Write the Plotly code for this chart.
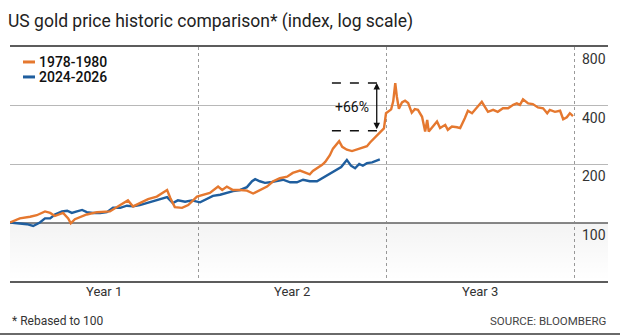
import math
import plotly.graph_objects as go

# ---- data (index, rebased to 100; x = days since start of period) ----
days_1978 = [0, 19, 39, 52, 68, 78, 87, 103, 113, 118, 126, 149, 169, 194, 214, 229, 239, 252,
             268, 285, 297, 305, 311, 320, 334, 346, 363, 375, 388, 404, 412, 421, 433, 447,
             460, 472, 485, 499, 511, 524, 538, 549, 563, 573, 582, 588, 598, 606, 612, 621,
             627, 635, 639, 645, 654, 664, 674, 683, 693, 699, 709, 718, 726, 730, 734, 740,
             744, 748, 751, 755, 761, 767, 773, 780, 786, 792, 800, 806, 810, 813, 821, 829,
             835, 845, 850, 858, 868, 874, 883, 889, 897, 907, 916, 922, 928, 938, 947, 957,
             967, 977, 984, 990, 996, 1006, 1015, 1025, 1035, 1043, 1048, 1058, 1068, 1074,
             1081, 1087, 1093]
gold_1978 = [100, 105, 107, 109, 114, 112, 108, 112, 105, 99, 104, 110, 113, 114, 123, 130, 121, 126,
             132, 136, 142, 147, 134, 120, 119, 123, 136, 139, 142, 153, 147, 153, 147, 147,
             146, 141, 147, 153, 163, 169, 172, 180, 185, 180, 177, 184, 191, 198, 205, 222,
             240, 255, 262, 245, 237, 233, 237, 242, 247, 258, 275, 290, 305, 365, 372, 382,
             420, 522, 445, 385, 415, 423, 412, 367, 383, 380, 350, 294, 337, 294, 312, 331,
             306, 318, 300, 312, 309, 306, 344, 376, 365, 394, 418, 394, 371, 380, 371, 387,
             387, 403, 410, 403, 430, 410, 407, 391, 387, 365, 380, 371, 376, 340,
             348, 365, 353]

days_2024 = [0, 19, 33, 45, 58, 68, 78, 87, 101, 111, 120, 130, 140, 149, 161, 175, 188, 200,
             214, 227, 239, 252, 266, 278, 291, 305, 316, 326, 340, 353, 369, 382, 394, 408,
             421, 433, 447, 460, 470, 476, 485, 495, 505, 518, 530, 544, 557, 569, 582, 596,
             608, 621, 631, 643, 654, 662, 670, 678, 685, 693, 703, 713, 718]
gold_2024 = [100, 99, 98, 96, 100, 105, 105, 110, 114, 115, 112, 114, 116, 113, 112, 112, 113, 119,
             119, 122, 121, 123, 126, 128, 132, 135, 126, 130, 128, 130, 127, 132, 137, 139,
             142, 145, 147, 152, 163, 167, 163, 160, 161, 163, 166, 161, 161, 166, 163, 163,
             170, 177, 184, 193, 210, 196, 190, 200, 196, 202, 204, 208, 211]

year_bounds = [0, 365, 730, 1095]
year_mids = [182.5, 547.5, 912.5]
year_labels = ["Year 1", "Year 2", "Year 3"]
y_ticks = [100, 200, 400, 800]
light_grid = [200, 400]
base_line = [100]
X_MAX = 1161
Y_MIN, Y_MAX = 50, 800

# annotation of the peak gain
ann_days = [625, 726]
ann_arrow_day = 712
ann_label_day = 664
peak_value = 522
pre_peak_value = 297

ORANGE = "#E5782F"
BLUE = "#1F5E9E"
FONT = "Roboto"
L = math.log10
Y_RANGE = [L(Y_MIN), L(Y_MAX)]

fig = go.Figure()
# faint shading below the 100 line
fig.add_trace(go.Scatter(x=[0, X_MAX, X_MAX, 0], y=[Y_MIN, Y_MIN, 100, 100], fill="toself", mode="none",
                         fillgradient=dict(type="vertical",
                                           colorscale=[[0, "rgba(0,0,0,0)"], [1, "rgba(0,0,0,0.045)"]]),
                         showlegend=False, hoverinfo="skip"))
fig.add_trace(go.Scatter(x=days_2024, y=gold_2024, mode="lines", name="2024-2026",
                         line=dict(color=BLUE, width=2.4), showlegend=False))
fig.add_trace(go.Scatter(x=days_1978, y=gold_1978, mode="lines", name="1978-1980",
                         line=dict(color=ORANGE, width=2.4), showlegend=False))
# dashed guide lines of the +66% annotation
for v in (peak_value, pre_peak_value):
    fig.add_trace(go.Scatter(x=ann_days, y=[v, v], mode="lines", showlegend=False, hoverinfo="skip",
                             line=dict(color="#111111", width=1.5, dash="dash")))
# base line (100) on an overlaid axis so it can be darker than the other grid lines
fig.add_trace(go.Scatter(x=[None], y=[None], yaxis="y2", showlegend=False, hoverinfo="skip"))

shapes = [
    # footer rule
    dict(type="line", xref="paper", yref="paper", x0=-0.02, x1=1.03, y0=-0.2265, y1=-0.2265,
         line=dict(color="#6a6a6a", width=2)),
]
# custom legend lines
for yy, col in ((0.936, ORANGE), (0.872, BLUE)):
    shapes.append(dict(type="line", xref="paper", yref="paper", x0=0.0217, x1=0.0418, y0=yy, y1=yy,
                       line=dict(color=col, width=3)))

annotations = []
for v in y_ticks:
    annotations.append(dict(xref="paper", yref="y", x=1, y=L(v), xanchor="right", yanchor="top",
                            yshift=-2, text=str(v), showarrow=False,
                            font=dict(family=FONT, size=14, color="#333333")))
for xm, lab in zip(year_mids, year_labels):
    annotations.append(dict(xref="x", yref="paper", x=xm, y=-0.047, xanchor="center", yanchor="middle",
                            text=lab, showarrow=False, font=dict(family=FONT, size=13, color="#333333")))
annotations += [
    dict(xref="paper", yref="paper", x=-0.0067, y=1.111, xanchor="left", yanchor="middle",
         text="US gold price historic comparison* (index, log scale)", showarrow=False,
         font=dict(family=FONT, size=17.5, color="#222222")),
    dict(xref="paper", yref="paper", x=0.045, y=0.936, xanchor="left", yanchor="middle",
         text="1978-1980", showarrow=False, font=dict(family=FONT + " Medium, " + FONT, size=14, color="#111111")),
    dict(xref="paper", yref="paper", x=0.045, y=0.872, xanchor="left", yanchor="middle",
         text="2024-2026", showarrow=False, font=dict(family=FONT + " Medium, " + FONT, size=14, color="#111111")),
    dict(xref="paper", yref="paper", x=0, y=-0.171, xanchor="left", yanchor="middle",
         text="* Rebased to 100", showarrow=False, font=dict(family=FONT, size=12, color="#333333")),
    dict(xref="paper", yref="paper", x=1, y=-0.171, xanchor="right", yanchor="middle",
         text="SOURCE: BLOOMBERG", showarrow=False, font=dict(family=FONT, size=11.5, color="#444444")),
    dict(xref="x", yref="y", x=ann_label_day, y=L(math.sqrt(peak_value * pre_peak_value)),
         text="+66%", showarrow=False, font=dict(family=FONT, size=14, color="#111111")),
    dict(xref="x", yref="y", x=ann_arrow_day, y=L(peak_value), axref="x", ayref="y",
         ax=ann_arrow_day, ay=L(pre_peak_value), text="", showarrow=True,
         arrowhead=2, startarrowhead=2, arrowside="end+start", arrowsize=1, startarrowsize=1,
         arrowwidth=1.3, arrowcolor="#111111"),
]

fig.update_layout(
    width=620, height=336,
    margin=dict(l=10, r=12, t=47, b=55),
    paper_bgcolor="white", plot_bgcolor="rgba(0,0,0,0)",
    shapes=shapes, annotations=annotations,
    showlegend=False,
    xaxis=dict(range=[0, X_MAX], showticklabels=False,
               showgrid=False, zeroline=False, ticks="",
               showline=True, mirror=True, linecolor="#5c5c5c", linewidth=2,
               minor=dict(tickmode="array", tickvals=year_bounds, showgrid=True, griddash="dot",
                          gridcolor="#9a9a9a", gridwidth=1, ticks="")),
    yaxis=dict(type="log", range=Y_RANGE, tickmode="array", tickvals=light_grid,
               showgrid=True, gridcolor="#b8b8b8", gridwidth=1, zeroline=False,
               showticklabels=False, showline=False, ticks=""),
    yaxis2=dict(type="log", range=Y_RANGE, overlaying="y", tickmode="array", tickvals=base_line,
                showgrid=True, gridcolor="#8a8a8a", gridwidth=2, zeroline=False,
                showticklabels=False, showline=False, ticks=""),
)

fig.write_html("out.html")
